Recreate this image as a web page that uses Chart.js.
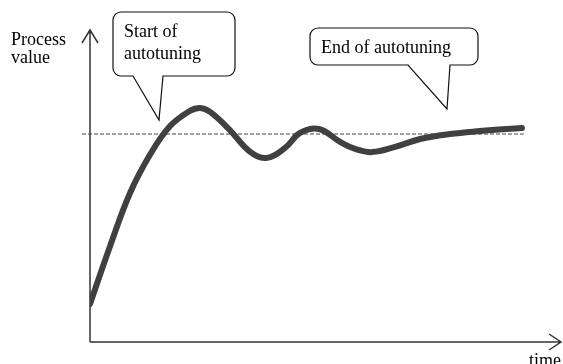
<!DOCTYPE html>
<html>
<head>
<meta charset="utf-8">
<script src="https://cdn.jsdelivr.net/npm/chart.js@4"></script>
<style>
  body { margin: 0; background: #fff; }
  canvas { display: block; }
</style>
</head>
<body>
<canvas id="myChart" width="563" height="364"></canvas>
<script>
// Datos (tiempo en unidades arbitrarias, valor relativo al setpoint)
const tiempo = [0, 4.2, 8.5, 12.7, 17.0, 21.2, 23.4, 25.5, 29.7, 33.8, 37.4, 41.4, 44.6, 48.6, 53.1, 56.3, 59.9, 64.8, 70.1, 76.4, 82.8, 91.7];
const valorProceso = [0.183, 0.457, 0.716, 0.899, 1.038, 1.111, 1.125, 1.106, 1.019, 0.918, 0.885, 0.933, 1.005, 1.024, 0.962, 0.928, 0.913, 0.938, 0.976, 1.0, 1.014, 1.029];
const setpoint = 1.0;
const setpointTiempo = [-1.7, 92.1];

const serif = "'Liberation Serif', 'DejaVu Serif', serif";

// Plugin para dibujar ejes con flechas, textos y globos de texto
const dibujoExtra = {
    id: "dibujoExtra",
    beforeDatasetsDraw(chart) {
        const ctx = chart.ctx;
        const xs = chart.scales.x;
        const ys = chart.scales.y;
        const x0 = xs.getPixelForValue(0);
        const y0 = ys.getPixelForValue(0);
        const xEnd = xs.right;
        const yTop = ys.top;

        ctx.save();
        ctx.strokeStyle = "#333";
        ctx.lineWidth = 1.5;
        // eje y
        ctx.beginPath();
        ctx.moveTo(x0, y0);
        ctx.lineTo(x0, yTop);
        ctx.moveTo(x0 - 8, yTop + 13);
        ctx.lineTo(x0, yTop);
        ctx.lineTo(x0 + 8, yTop + 13);
        ctx.stroke();
        // eje x
        ctx.beginPath();
        ctx.moveTo(x0, y0);
        ctx.lineTo(xEnd, y0);
        ctx.moveTo(xEnd - 12, y0 - 8);
        ctx.lineTo(xEnd, y0);
        ctx.lineTo(xEnd - 12, y0 + 8);
        ctx.stroke();
        ctx.restore();
    },
    afterDraw(chart) {
        const ctx = chart.ctx;
        ctx.save();
        ctx.fillStyle = "#000";
        ctx.font = "18px " + serif;
        ctx.textBaseline = "alphabetic";
        ctx.fillText("Process", 11, 45);
        ctx.fillText("value", 11, 63);
        ctx.fillText("time", 529, 366);

        // globo 1
        globo(ctx, 113, 12, 235, 76, 133, 163, 159, 120);
        ctx.fillStyle = "#000";
        ctx.fillText("Start of", 124, 37);
        ctx.fillText("autotuning", 124, 59);

        // globo 2
        globo(ctx, 310, 28, 478, 65, 408, 450, 447, 109);
        ctx.fillStyle = "#000";
        ctx.fillText("End of autotuning", 321, 53);
        ctx.restore();
    }
};

function globo(ctx, l, t, r, b, p1, p2, tx, ty) {
    const rad = 8;
    ctx.beginPath();
    ctx.moveTo(l + rad, t);
    ctx.lineTo(r - rad, t);
    ctx.arcTo(r, t, r, t + rad, rad);
    ctx.lineTo(r, b - rad);
    ctx.arcTo(r, b, r - rad, b, rad);
    ctx.lineTo(p2, b);
    ctx.lineTo(tx, ty);
    ctx.lineTo(p1, b);
    ctx.lineTo(l + rad, b);
    ctx.arcTo(l, b, l, b - rad, rad);
    ctx.lineTo(l, t + rad);
    ctx.arcTo(l, t, l + rad, t, rad);
    ctx.closePath();
    ctx.fillStyle = "#fff";
    ctx.fill();
    ctx.strokeStyle = "#111";
    ctx.lineWidth = 1.2;
    ctx.stroke();
}

const ctx = document.getElementById("myChart").getContext("2d");
const myChart = new Chart(ctx, {
    type: "line",
    data: {
        datasets: [
            {
                label: "Process value",
                data: tiempo.map((t, i) => ({ x: t, y: valorProceso[i] })),
                borderColor: "#404040",
                borderWidth: 6,
                borderCapStyle: "round",
                borderJoinStyle: "round",
                pointRadius: 0,
                tension: 0.4,
                fill: false,
            },
            {
                label: "Setpoint",
                data: setpointTiempo.map((t) => ({ x: t, y: setpoint })),
                borderColor: "#444",
                borderWidth: 1,
                borderDash: [4, 2],
                pointRadius: 0,
                clip: false,
                fill: false,
            },
        ],
    },
    options: {
        responsive: false,
        animation: false,
        devicePixelRatio: 1,
        layout: { padding: { left: 90, right: 2, top: 30, bottom: 22 } },
        plugins: { legend: { display: false }, tooltip: { enabled: false } },
        scales: {
            x: { type: "linear", min: 0, max: 100, display: false },
            y: { min: 0, max: 1.5, display: false },
        },
    },
    plugins: [dibujoExtra],
});
</script>
</body>
</html>
